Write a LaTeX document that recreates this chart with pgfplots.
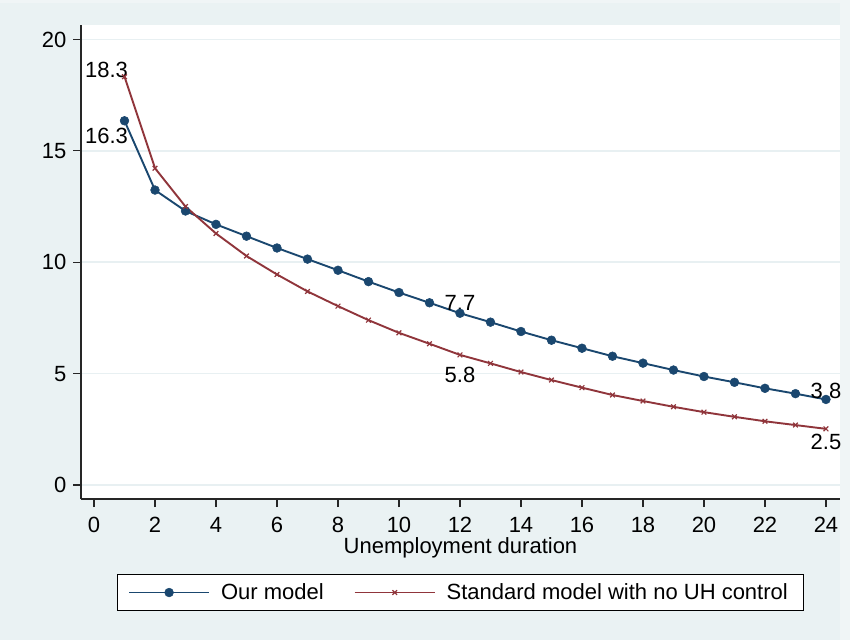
\documentclass[border=0pt]{standalone}
\usepackage{fontspec}
\setmainfont{Liberation Sans}
\usepackage{pgfplots}
\pgfplotsset{compat=1.18}

\definecolor{stnavy}{RGB}{26,71,111}
\definecolor{stmaroon}{RGB}{144,53,59}
\definecolor{stbg}{RGB}{234,242,243}
\definecolor{stedge}{RGB}{240,245,246}
\definecolor{stgrid}{RGB}{232,240,242}

\newcommand{\lblfont}{\fontsize{22}{25}\selectfont}
\tikzset{lbl/.style={font=\lblfont, inner sep=0pt, anchor=center, text=black}}

\begin{document}
\begin{tikzpicture}[x=1pt,y=1pt]
\useasboundingbox (0,0) rectangle (850,640);
\fill[stedge] (0,0) rectangle (850,640);
\fill[stbg] (0,0) rectangle (840,637);
\begin{axis}[
  at={(81pt,141pt)}, anchor=south west,
  scale only axis, width=759pt, height=474pt,
  xmin=-0.426, xmax=24.46,
  ymin=-0.629, ymax=20.65,
  axis background/.style={fill=white},
  axis x line*=bottom, axis y line*=left,
  axis line style={line width=1.2pt, color=black!85, -},
  xtick={0,2,...,24}, ytick={0,5,10,15,20},
  tick align=outside, major tick length=8pt,
  tick style={line width=1.2pt, color=black!85},
  ymajorgrids, major grid style={draw=stgrid, line width=1.5pt},
  font=\lblfont,
  /pgf/number format/assume math mode=true,
  xticklabel style={inner sep=0pt, yshift=-10pt},
  yticklabel style={inner sep=0pt, xshift=-6.5pt},
  xlabel={Unemployment duration},
  xlabel style={at={(axis description cs:0.5,0)}, anchor=base, yshift=-54pt, inner sep=0pt},
  clip=false,
  legend columns=2,
  legend image code/.code={\draw[mark repeat=2,mark phase=2,line width=1.9pt] plot coordinates {(0pt,0pt) (40pt,0pt) (80pt,0pt)};},
  legend style={at={(axis description cs:0.5,-0.1973)}, anchor=center,
    draw=black, line width=1.1pt, fill=white,
    inner xsep=11pt, inner ysep=9pt,
    nodes={inner sep=0pt, font=\lblfont},
    column sep=11pt,
    /tikz/every even column/.append style={column sep=30pt}},
]
\addplot[color=stnavy, line width=1.9pt, mark=*, mark size=4.4pt,
  mark options={fill=stnavy, draw=stnavy, line width=0.5pt}] coordinates {
  (1,16.35) (2,13.24) (3,12.30) (4,11.70) (5,11.17) (6,10.64)
  (7,10.14) (8,9.64) (9,9.13) (10,8.64) (11,8.18) (12,7.71)
  (13,7.31) (14,6.89) (15,6.50) (16,6.14) (17,5.78) (18,5.47)
  (19,5.16) (20,4.87) (21,4.61) (22,4.34) (23,4.10) (24,3.84)
};
\addlegendentry{Our model}
\addplot[color=stmaroon, line width=1.9pt, mark=x, mark size=3.3pt,
  mark options={line width=1.2pt}] coordinates {
  (1,18.33) (2,14.22) (3,12.50) (4,11.29) (5,10.28) (6,9.45)
  (7,8.69) (8,8.03) (9,7.40) (10,6.83) (11,6.34) (12,5.84)
  (13,5.46) (14,5.07) (15,4.71) (16,4.37) (17,4.04) (18,3.77)
  (19,3.51) (20,3.27) (21,3.06) (22,2.86) (23,2.69) (24,2.52)
};
\addlegendentry{Standard model with no UH control\hspace*{5pt}}
% point labels, as in the original
\node[lbl, xshift=-18pt, yshift=6.8pt] at (axis cs:1,18.33) {18.3};
\node[lbl, xshift=-18pt, yshift=-15.3pt] at (axis cs:1,16.35) {16.3};
\node[lbl, yshift=10pt] at (axis cs:12,7.71) {7.7};
\node[lbl, yshift=-20pt] at (axis cs:12,5.84) {5.8};
\node[lbl, yshift=9pt] at (axis cs:24,3.84) {3.8};
\node[lbl, yshift=-13pt] at (axis cs:24,2.52) {2.5};
\end{axis}
\end{tikzpicture}
\end{document}
